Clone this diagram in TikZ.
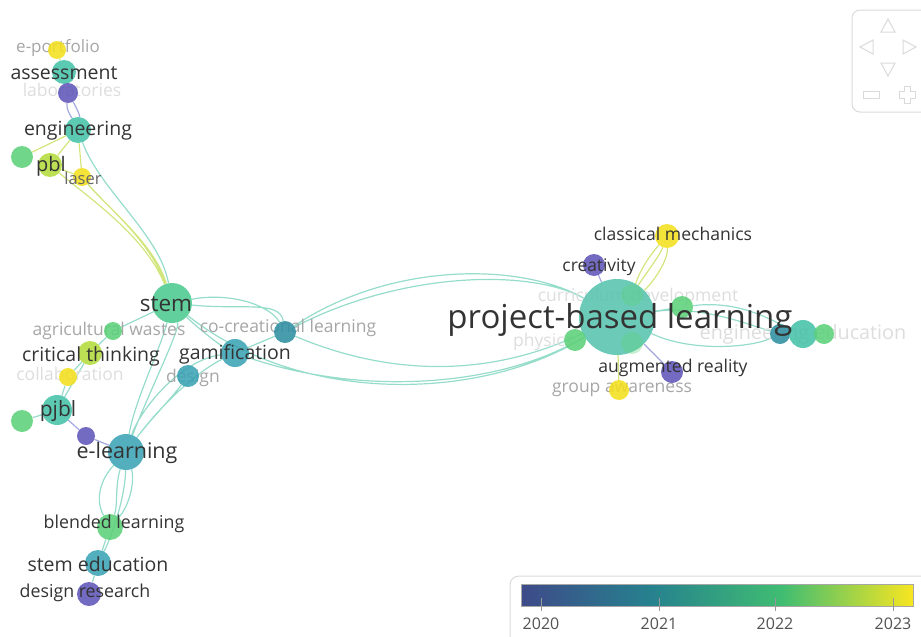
\documentclass[tikz,border=0pt]{standalone}
\usepackage{fontspec}
\setmainfont{Open Sans}
\pgfdeclarelayer{edgelayer}
\pgfdeclarelayer{fadelayer}
\pgfdeclarelayer{toplayer}
\pgfsetlayers{edgelayer,fadelayer,main,toplayer}
\definecolor{vpurple}{HTML}{5F56B8}
\definecolor{vtealblue}{HTML}{3BA3B4}
\definecolor{vdeepteal}{HTML}{2F8FA2}
\definecolor{vteal}{HTML}{46C1A8}
\definecolor{vstem}{HTML}{4CC98F}
\definecolor{vgreen}{HTML}{5CD07A}
\definecolor{vlime}{HTML}{B3DB3C}
\definecolor{vyellow}{HTML}{F3DF1E}
\definecolor{vbig}{HTML}{58C4AE}
\definecolor{labdark}{HTML}{333333}
\definecolor{labgrey}{HTML}{A6A6A6}
\definecolor{labghostc}{HTML}{DDDDDD}
\definecolor{mint}{HTML}{84D6C2}
\definecolor{ymint}{HTML}{D2E67E}
\definecolor{pmint}{HTML}{A3A8E0}
\definecolor{widgetc}{HTML}{DADADA}
\definecolor{v0}{HTML}{3E4A89}
\definecolor{v1}{HTML}{26828E}
\definecolor{v2}{HTML}{40BD72}
\definecolor{v3}{HTML}{F8E621}
\pgfdeclarehorizontalshading{viridisbar}{100bp}{color(0bp)=(v0); color(25bp)=(v0); color(41.7bp)=(v1); color(58.3bp)=(v2); color(75bp)=(v3); color(100bp)=(v3)}
\newcommand{\kwsize}[1]{\fontsize{#1}{#1}\selectfont}
\begin{document}
\begin{tikzpicture}[x=1pt,y=-1pt,
	kw/.style={circle, inner sep=0pt, minimum size=#1, opacity=0.88},
	lab/.style={inner sep=0pt, text=labdark, font=\kwsize{19.5}},
	labfaint/.style={inner sep=0pt, text=labgrey, font=\kwsize{17.5}},
	labghost/.style={inner sep=0pt, text=labghostc, font=\kwsize{17.5}},
	link/.style={draw=mint, line width=1.2pt, opacity=0.85},
	ylink/.style={draw=ymint, line width=1.2pt},
	plink/.style={draw=pmint, line width=1.2pt}]
	\useasboundingbox (0,0) rectangle (921,637);
	% keywords, left cluster
	\node[kw=18, fill=vyellow] at (57,50) (eportfolio) {};
	\node[kw=24, fill=vteal] at (64,72) (assessment) {};
	\node[kw=20, fill=vpurple] at (68,93) (laboratories) {};
	\node[kw=26, fill=vteal] at (78,130) (engineering) {};
	\node[kw=22, fill=vgreen] at (22,157) (gA) {};
	\node[kw=24, fill=vlime] at (50,165) (pbl) {};
	\node[kw=18, fill=vyellow] at (82,177) (laser) {};
	\node[kw=40, fill=vstem] at (172,303) (stem) {};
	\node[kw=18, fill=vgreen] at (113,331) (agri) {};
	\node[kw=24, fill=vlime] at (90,353) (critical) {};
	\node[kw=18, fill=vyellow] at (68,377) (collab) {};
	\node[kw=30, fill=vteal] at (57,410) (pjbl) {};
	\node[kw=22, fill=vgreen] at (22,421) (gB) {};
	\node[kw=18, fill=vpurple] at (86,436) (pC) {};
	\node[kw=36, fill=vtealblue] at (126,452) (elearning) {};
	\node[kw=28, fill=vtealblue] at (235,353) (gamification) {};
	\node[kw=22, fill=vtealblue] at (188,376) (design) {};
	\node[kw=22, fill=vdeepteal] at (285,332) (cocreational) {};
	\node[kw=26, fill=vgreen] at (110,527) (blended) {};
	\node[kw=26, fill=vtealblue] at (98,563) (stemedu) {};
	\node[kw=24, fill=vpurple] at (89,594) (designres) {};
	% keywords, right cluster
	\node[kw=76, fill=vbig] at (617,317) (projbl) {};
	\node[kw=22, fill=vgreen, opacity=0.35] at (632,295) (curric) {};
	\node[kw=22, fill=vgreen, opacity=0.35] at (632,343) (inner) {};
	\node[kw=22, fill=vgreen] at (575,340) (gL) {};
	\node[kw=22, fill=vgreen] at (682,307) (gR) {};
	\node[kw=22, fill=vpurple] at (594,265) (creativity) {};
	\node[kw=24, fill=vyellow] at (667,236) (classical) {};
	\node[kw=22, fill=vpurple] at (672,372) (augmented) {};
	\node[kw=20, fill=vyellow] at (619,390) (group) {};
	\node[kw=20, fill=vdeepteal] at (780,334) (ee1) {};
	\node[kw=28, fill=vteal] at (803,334) (ee2) {};
	\node[kw=20, fill=vgreen] at (824,334) (ee3) {};
	% labels
	\begin{pgfonlayer}{toplayer}
	\node[lab] at (64,73) (l-assessment) {assessment};
	\node[lab] at (78,131) (l-engineering) {engineering};
	\node[lab, font=\kwsize{20}] at (51,166) (l-pbl) {pbl};
	\node[lab, text=labdark!75, font=\kwsize{16.5}] at (83,178) (l-laser) {laser};
	\node[lab, font=\kwsize{22.5}] at (166,304) (l-stem) {stem};
	\node[lab] at (91,356) (l-critical) {critical thinking};
	\node[lab, font=\kwsize{21}] at (58,411) (l-pjbl) {pjbl};
	\node[lab, font=\kwsize{21.5}] at (127,453) (l-elearning) {e-learning};
	\node[lab] at (235,354) (l-gamification) {gamification};
	\node[lab, font=\kwsize{17.8}] at (114,524) (l-blended) {blended learning};
	\node[lab] at (98,564) (l-stemedu) {stem education};
	\node[lab, font=\kwsize{17.8}] at (85,593) (l-designres) {design research};
	\node[lab, font=\kwsize{33}] at (620,320) (l-projbl) {project-based learning};
	\node[lab, font=\kwsize{17.4}] at (599,267) (l-creativity) {creativity};
	\node[lab, font=\kwsize{17.6}] at (673,234) (l-classical) {classical mechanics};
	\node[lab, font=\kwsize{17.6}] at (673,368) (l-augmented) {augmented reality};
	\end{pgfonlayer}
	\begin{pgfonlayer}{fadelayer}
	\node[labfaint, font=\kwsize{17}] at (58,48) (l-eportfolio) {e-portfolio};
	\node[labghost] at (72,90) (l-laboratories) {laboratories};
	\node[labfaint] at (109,331) (l-agri) {agricultural wastes};
	\node[labghost] at (70,374) (l-collab) {collaboration};
	\node[labfaint] at (193,378) (l-design) {design};
	\node[labfaint] at (288,328) (l-cocreational) {co-creational learning};
	\node[labghost] at (638,297) (l-curric) {curriculum development};
	\node[labghost, anchor=west] at (513,342) (l-physics) {physics};
	\node[labghost, font=\kwsize{19.8}] at (803,334) (l-engedu) {engineering education};
	\node[labfaint] at (622,390) (l-group) {group awareness};
	\end{pgfonlayer}
	% links
	\begin{pgfonlayer}{edgelayer}
	\path[link] (cocreational) .. controls (390,262) and (520,262) .. (projbl)
	(cocreational) .. controls (400,272) and (530,268) .. (projbl)
	(cocreational) .. controls (380,372) and (480,382) .. (projbl)
	(stem) .. controls (300,405) and (480,402) .. (projbl)
	(gamification) .. controls (360,396) and (500,388) .. (projbl)
	(stem) .. controls (230,292) and (270,305) .. (cocreational)
	(stem) .. controls (240,310) and (280,300) .. (cocreational)
	(stem) .. controls (200,330) and (220,345) .. (gamification)
	(gamification) -- (cocreational)
	(stem) .. controls (160,235) and (100,190) .. (engineering)
	(stem) -- (agri) (agri) -- (critical) (critical) -- (collab)
	(collab) -- (pjbl) (critical) -- (pjbl) (pjbl) -- (gB)
	(elearning) .. controls (150,420) and (170,400) .. (design)
	(elearning) .. controls (165,400) and (200,370) .. (gamification)
	(elearning) .. controls (140,410) and (180,360) .. (gamification)
	(elearning) .. controls (150,390) and (180,330) .. (stem)
	(elearning) .. controls (135,400) and (160,350) .. (stem)
	(elearning) .. controls (100,480) and (95,500) .. (blended)
	(elearning) .. controls (135,480) and (130,505) .. (blended)
	(elearning) .. controls (115,485) and (118,505) .. (blended)
	(elearning) .. controls (125,500) and (110,540) .. (stemedu)
	(blended) -- (stemedu) (stemedu) -- (designres)
	(projbl) .. controls (700,305) and (750,325) .. (ee1)
	(projbl) .. controls (690,352) and (750,348) .. (ee1)
	(gR) .. controls (740,300) and (770,320) .. (ee2)
	(ee1) -- (ee2) (ee2) -- (ee3)
	(projbl) -- (gL) (projbl) -- (gR);
	\path[ylink] (stem) .. controls (150,240) and (105,205) .. (laser)
	(stem) .. controls (145,235) and (85,195) .. (pbl)
	(stem) .. controls (155,245) and (110,210) .. (laser)
	(pbl) -- (laser) (engineering) -- (laser)
	(engineering) -- (pbl) (engineering) -- (gA)
	(eportfolio) -- (assessment)
	(curric) .. controls (640,270) and (650,255) .. (classical)
	(projbl) .. controls (645,275) and (660,255) .. (classical)
	(projbl) .. controls (655,280) and (668,260) .. (classical)
	(projbl) -- (group);
	\path[plink] (assessment) -- (laboratories)
	(laboratories) .. controls (66,110) and (72,118) .. (engineering)
	(laboratories) .. controls (75,105) and (80,115) .. (engineering)
	(pjbl) -- (pC) (pC) -- (elearning)
	(projbl) -- (creativity) (projbl) -- (augmented);
	\end{pgfonlayer}
	% colour legend
	\draw[widgetc, line width=1pt, rounded corners=9pt] (510,576) rectangle (930,650);
	\shade[shading=viridisbar] (521,584) rectangle (913,606);
	\draw[gray!70, line width=0.6pt] (521,584) rectangle (913,606);
	\foreach \yr/\px in {2020/541, 2021/659, 2022/775, 2023/893} {
		\draw[gray!80, line width=1pt] (\px,598) -- (\px,611);
		\node[text=labdark!85, font=\kwsize{16}] at (\px,624) {\yr};
	}
	% navigation widget
	\begin{scope}[draw=widgetc, line width=1pt]
	\draw[rounded corners=8pt] (852,10) rectangle (930,112);
	\draw (881,32) -- (888,19) -- (895,32) -- cycle;
	\draw (881,63) -- (888,76) -- (895,63) -- cycle;
	\draw (873,40) -- (860,47) -- (873,54) -- cycle;
	\draw (903,40) -- (916,47) -- (903,54) -- cycle;
	\draw (863,91) rectangle (879,98);
	\draw (904,86) -- (910,86) -- (910,91) -- (915,91) -- (915,98) -- (910,98) -- (910,103) -- (904,103) -- (904,98) -- (899,98) -- (899,91) -- (904,91) -- cycle;
	\end{scope}
\end{tikzpicture}
\end{document}
